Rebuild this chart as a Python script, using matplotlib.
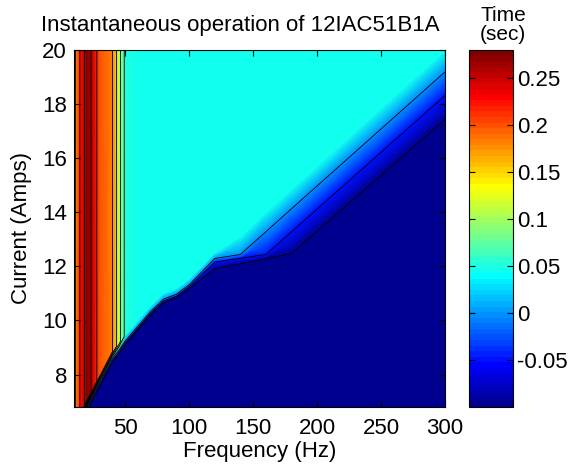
import numpy as np
import matplotlib
matplotlib.use('Agg')
from matplotlib import pyplot as plt
from matplotlib.colors import ListedColormap

plt.rcParams['font.family'] = ['Liberation Sans', 'DejaVu Sans']
plt.rcParams['contour.negative_linestyle'] = 'solid'

# test frequencies (Hz)
freq = [10, 15, 20, 25, 30, 40, 45, 50, 60, 70, 80, 90, 100, 120, 140, 160, 180, 240, 300]
# operating time once the relay picks up (sec)
op_time = [0.165, 0.225, 0.28, 0.25, 0.197, 0.182, 0.118, 0.05, 0.047, 0.044, 0.0425,
           0.043, 0.045, 0.047, 0.047, 0.046, 0.046, 0.045, 0.043]
# currents (Amps) read along each frequency column
i_bottom = [5.0] * len(freq)
i_off = [5.7, 6.2, 6.65, 7.1, 7.55, 8.45, 8.75, 9.1, 9.65, 10.2, 10.65, 10.83, 11.18,
         11.91, 12.10, 12.28, 12.47, 14.95, 17.43]     # last current with no trip
i_half = [5.77, 6.27, 6.72, 7.17, 7.62, 8.52, 8.82, 9.17, 9.72, 10.27, 10.72, 10.90, 11.25,
          12.16, 12.30, 12.44, 13.28, 15.80, 18.32]   # time = -0.05
i_zero = [5.84, 6.34, 6.79, 7.24, 7.69, 8.59, 8.89, 9.24, 9.79, 10.34, 10.79, 10.97, 11.32,
          12.29, 12.44, 13.28, 14.13, 16.66, 19.19]   # time = 0
i_on = [6.1, 6.6, 7.05, 7.5, 7.95, 8.85, 9.15, 9.45, 10.0, 10.55, 11.0, 11.18, 11.53,
        12.5, 13.1, 14.0, 14.85, 17.42, 19.98]        # full operating time reached
i_top = [20.0] * len(freq)
no_trip = -0.1

levels = [-0.0999, -0.05, 0, 0.06, 0.10, 0.14, 0.18, 0.22, 0.26]
cbar_ticks = [-0.05, 0, 0.05, 0.1, 0.15, 0.2, 0.25]


def matlabJet(m=64):
    # same construction as matlab's jet(m)
    n = int(np.ceil(m / 4))
    u = np.concatenate([np.arange(1, n + 1) / n, np.ones(n - 1), np.arange(n, 0, -1) / n])
    g = int(np.ceil(n / 2)) - (1 if m % 4 == 1 else 0) + np.arange(1, len(u) + 1)
    r = g + n
    b = g - n
    g = g[g <= m]
    r = r[r <= m]
    b = b[b >= 1]
    J = np.zeros((m, 3))
    J[r - 1, 0] = u[:len(r)]
    J[g - 1, 1] = u[:len(g)]
    J[b - 1, 2] = u[len(u) - len(b):]
    return ListedColormap(J)


def buildGrid():
    n = len(freq)
    X = np.tile(np.array(freq, dtype=float), (6, 1))
    Y = np.vstack([i_bottom, i_off, i_half, i_zero, i_on, i_top])
    Z = np.vstack([[no_trip] * n, [no_trip] * n, [-0.05] * n, [0.0] * n, op_time, op_time])
    return X, Y, Z


X, Y, Z = buildGrid()
cmap = matlabJet(64)

fig = plt.figure(figsize=(5.69, 4.66), dpi=100)
ax = fig.add_axes([74 / 569, 1 - 407 / 466, 371 / 569, 357 / 466])
mesh = ax.pcolormesh(X, Y, Z, shading='gouraud', cmap=cmap, vmin=-0.1, vmax=0.28)
ax.contour(X, Y, Z, levels=levels, colors='k', linewidths=0.6)

ax.set_xlim(10, 300)
ax.set_ylim(6.8, 20)
ax.set_xticks([50, 100, 150, 200, 250, 300])
ax.set_yticks([8, 10, 12, 14, 16, 18, 20])
ax.tick_params(direction='in', length=4, top=True, right=True, labelsize=16)
ax.tick_params(axis='x', pad=8)
ax.tick_params(axis='y', pad=5)
ax.set_xlabel('Frequency (Hz)', fontsize=16, labelpad=1)
ax.set_ylabel('Current (Amps)', fontsize=16, labelpad=7)
for s in ax.spines.values():
    s.set_linewidth(0.8)

fig.text(240 / 569, 1 - 25 / 466, 'Instantaneous operation of 12IAC51B1A',
         ha='center', va='center', fontsize=16)

cax = fig.add_axes([469 / 569, 1 - 407 / 466, 44 / 569, 357 / 466])
cb = fig.colorbar(mesh, cax=cax, ticks=cbar_ticks)
cb.ax.set_yticklabels(['%g' % t for t in cbar_ticks])
cb.ax.tick_params(direction='in', length=4, left=True, right=True, labelsize=16, pad=3)
cb.outline.set_linewidth(0.8)
fig.text(503 / 569, 1 - 25 / 466, 'Time\n(sec)', ha='center', va='center',
         fontsize=15, linespacing=1.0)

fig.savefig('out.png', dpi=100)
